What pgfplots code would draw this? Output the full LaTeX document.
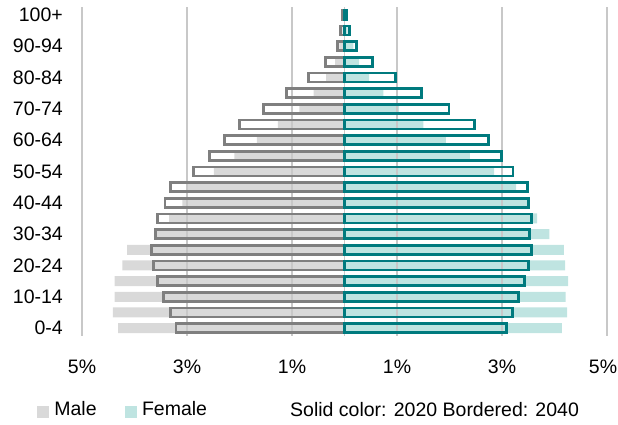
\documentclass[border=0pt]{standalone}
\usepackage{pgfplots}
\usepackage{pgfplotstable}
\pgfplotsset{compat=1.18}
\usepackage{fontspec}
\setmainfont{Liberation Sans}
\definecolor{mgrey}{HTML}{D9D9D9}
\definecolor{mgreyb}{HTML}{7F7F7F}
\definecolor{fteal}{HTML}{BFE4E1}
\definecolor{ftealb}{HTML}{007A7E}
\definecolor{gridc}{HTML}{C8C8C8}

% idx: 0 = 0-4 ... 20 = 100+ ; m = male (negative), f = female ; 20 = 2020 solid, 40 = 2040 bordered
\pgfplotstableread{
idx m20 m40 f20 f40
0 -4.31 -3.21 4.14 3.08
1 -4.41 -3.32 4.24 3.20
2 -4.38 -3.45 4.21 3.31
3 -4.38 -3.56 4.26 3.43
4 -4.23 -3.63 4.20 3.51
5 -4.14 -3.67 4.18 3.57
6 -3.58 -3.60 3.90 3.53
7 -3.34 -3.56 3.67 3.56
8 -3.09 -3.42 3.48 3.51
9 -2.98 -3.32 3.27 3.49
10 -2.49 -2.88 2.85 3.21
11 -2.10 -2.57 2.39 2.99
12 -1.67 -2.29 1.93 2.75
13 -1.27 -2.00 1.50 2.47
14 -0.86 -1.54 1.04 1.99
15 -0.59 -1.10 0.74 1.47
16 -0.35 -0.69 0.47 0.97
17 -0.18 -0.36 0.28 0.53
18 -0.10 -0.14 0.17 0.22
19 -0.04 -0.07 0.06 0.10
20 -0.02 -0.04 0.02 0.03
}\pop

\begin{document}
\fontsize{19.5}{23}\selectfont
\begin{tikzpicture}
\begin{axis}[
  set layers,
  at={(82pt,89pt)}, anchor=south west,
  scale only axis, width=525pt, height=329pt,
  xmin=-5, xmax=5, ymin=-0.5, ymax=20.5,
  xtick={-5,-3,-1,1,3},
  xticklabels={\mbox{5\%},\mbox{3\%},\mbox{1\%},\mbox{1\%},\mbox{3\%}},
  extra x ticks={0,5}, extra x tick labels={,\mbox{5\%}},
  extra x tick style={grid style={gridc, line width=1.1pt}, xticklabel style={xshift=-4pt}},
  ytick={0,2,4,6,8,10,12,14,16,18,20},
  yticklabels={0-4,10-14,20-24,30-34,40-44,50-54,60-64,70-74,80-84,90-94,100+},
  major tick length=0pt,
  axis line style={draw=none},
  xmajorgrids,
  grid style={gridc, line width=1.2pt},
  tick label style={font=\fontsize{19.5}{23}\selectfont},
  xticklabel style={anchor=base, inner sep=0pt, yshift=-38pt},
  yticklabel style={anchor=east, inner sep=0pt, xshift=-19pt},
  legend columns=2,
  legend cell align=left,
  legend style={at={(axis description cs:-0.0848,-0.2255)}, anchor=west,
    draw=none, fill=none, inner sep=0pt, outer sep=0pt,
    font=\fontsize{19.5}{23}\selectfont,
    nodes={inner sep=1.5pt},
    column sep=4pt,
    /tikz/every even column/.append style={column sep=27pt}},
]
\addlegendimage{legend image code/.code={\fill[mgrey] (0pt,-7pt) rectangle (11pt,4pt);}}
\addlegendentry{Male}
\addlegendimage{legend image code/.code={\fill[fteal] (0pt,-7pt) rectangle (11pt,4pt);}}
\addlegendentry{Female}

\addplot[xbar, bar width=10pt, bar shift=0pt, fill=mgrey, draw=none, on layer=axis background, forget plot]
  table[x=m20, y=idx]{\pop};
\addplot[xbar, bar width=10pt, bar shift=0pt, fill=fteal, draw=none, on layer=axis background, forget plot]
  table[x=f20, y=idx]{\pop};
\addplot[xbar, bar width=9pt, bar shift=0pt, fill=none, draw=mgreyb, line width=2.9pt, forget plot]
  table[x=m40, y=idx]{\pop};
\addplot[xbar, bar width=9pt, bar shift=0pt, fill=none, draw=ftealb, line width=2.9pt, forget plot]
  table[x=f40, y=idx]{\pop};
\end{axis}
\node[anchor=base west, inner sep=0pt, font=\fontsize{19.5}{23}\selectfont] at (290pt,8pt) {Solid color: 2020 Bordered: 2040};
\pgfresetboundingbox
\useasboundingbox (0,0) rectangle (618pt,425pt);
\end{tikzpicture}
\end{document}
